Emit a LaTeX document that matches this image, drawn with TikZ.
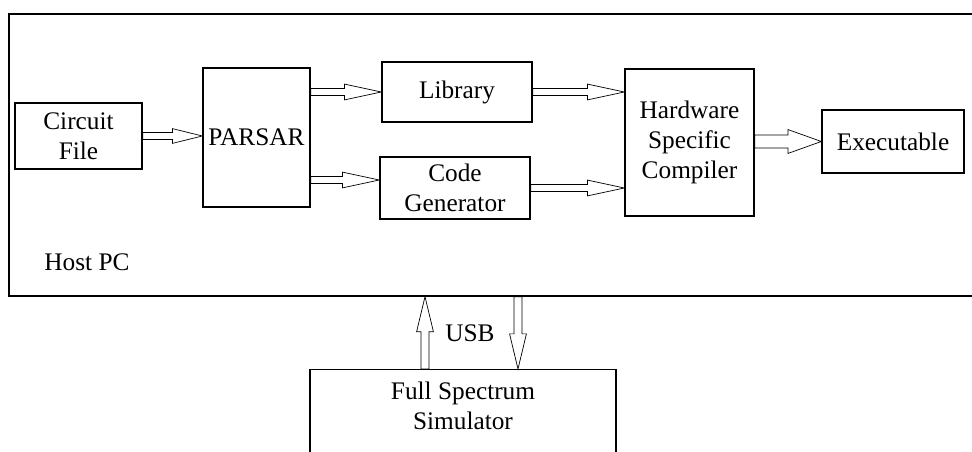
\documentclass[tikz,border=0pt]{standalone}
\usepackage{fontspec}
\setmainfont{Liberation Serif}
\usetikzlibrary{calc}

\begin{document}
\begin{tikzpicture}[
		x=0.02cm, y=-0.02cm,
		every node/.style={
			align=center,
			inner sep=0pt,
			font=\fontsize{14.4}{17}\selectfont
		},
		block/.style={draw, line width=0.8pt},
		arrow/.style n args={3}{
			draw, line width=0.6pt,
			to path={
				let \p1=(\tikztostart), \p2=(\tikztotarget),
				\n1={atan2(\y2-\y1,\x2-\x1)}, \n2={veclen(\x2-\x1,\y2-\y1)} in
				{[shift={(\p1)},rotate=\n1]
					(0pt,#1) -- ({\n2*1pt-#3},#1) -- ({\n2*1pt-#3},#2) -- ({\n2*1pt},0pt)
					-- ({\n2*1pt-#3},-#2) -- ({\n2*1pt-#3},-#1) -- (0pt,-#1) -- cycle}
			}
		}
		]
		
		\clip (0,0) rectangle (972,452);
		
		\node[block, minimum width=19.62cm, minimum height=5.64cm] (host) at (499.5,155) {};
		\node (hostlbl) at (87,262) {Host PC};
		
		\node[block, minimum width=2.54cm, minimum height=1.32cm] (cf) at (78.5,136) {Circuit\\File};
		\node[block, minimum width=2.14cm, minimum height=2.78cm] (parsar) at (256.5,137.5) {PARSAR};
		\node[block, minimum width=3cm, minimum height=1.2cm] (lib) at (457,92) {Library};
		\node[block, minimum width=3cm, minimum height=1.24cm] (cg) at (455,188) {Code\\Generator};
		\node[block, minimum width=2.58cm, minimum height=2.94cm] (hsc) at (689.5,142.5) {Hardware\\Specific\\Compiler};
		\node[block, minimum width=2.84cm, minimum height=1.26cm] (exe) at (893,141.5) {Executable};
		
		\node[block, minimum width=6.12cm, minimum height=3cm, anchor=north] (fss) at (463,369) {};
		\node (fsslbl) at (463,406) {Full Spectrum\\Simulator};
		\node (usb) at (470,333) {USB};
		
		\coordinate (cgin) at ([yshift=0.16cm]cg.west);
		\coordinate (usbup) at ([xshift=-0.76cm]fss.north);
		\coordinate (usbdn) at ([xshift=1.1cm]fss.north);
		
		\draw (cf.east) to[arrow={2pt}{4.2pt}{17pt}] (parsar.west |- cf.east);
		\draw (parsar.east |- lib.west) to[arrow={2pt}{4.5pt}{21pt}] (lib.west);
		\draw (parsar.east |- cgin) to[arrow={2pt}{4.5pt}{21pt}] (cgin);
		\draw (lib.east) to[arrow={2pt}{4.5pt}{21pt}] (hsc.west |- lib.east);
		\draw (cg.east) to[arrow={2pt}{4.5pt}{21pt}] (hsc.west |- cg.east);
		\draw (hsc.east |- exe.west) to[arrow={3.7pt}{6.8pt}{19pt}] (exe.west);
		
		\draw (usbup) to[arrow={2.3pt}{4.8pt}{20pt}] (usbup |- host.south);
		\draw (usbdn |- host.south) to[arrow={2.3pt}{4.8pt}{20pt}] (usbdn);
		
	\end{tikzpicture}
\end{document}
